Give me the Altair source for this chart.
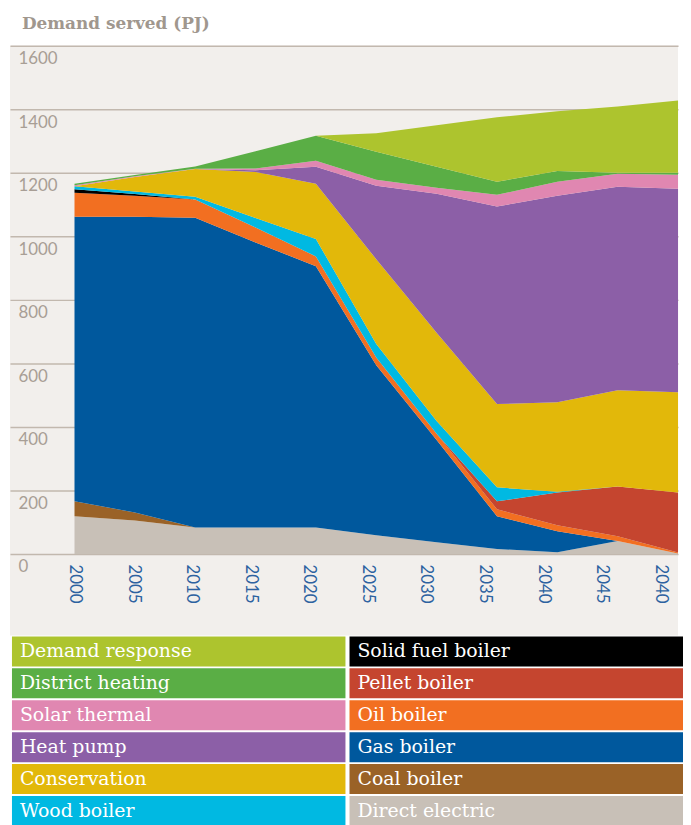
import altair as alt
import pandas as pd

# ---------------- data ----------------
years = [2000, 2005, 2010, 2015, 2020, 2025, 2030, 2035, 2040, 2045, 2050]

series_names = ["Direct electric", "Coal boiler", "Gas boiler", "Oil boiler",
                "Pellet boiler", "Solid fuel boiler", "Wood boiler", "Conservation",
                "Heat pump", "Solar thermal", "District heating", "Demand response"]
series_colors = ["#c8c0b7", "#9a6227", "#00589d", "#f26f21",
                 "#c5452f", "#000000", "#00b9e2", "#e2b80a",
                 "#8c5fa7", "#e087b1", "#5aae45", "#adc42e"]

direct_electric   = [119, 106, 84, 84, 84, 59, 37, 16, 6, 41, 2]
coal_boiler       = [47, 25, 0, 0, 0, 0, 0, 0, 0, 0, 0]
gas_boiler        = [896, 931, 975, 897, 822, 535, 322, 103, 66, 0, 0]
oil_boiler        = [75, 66, 57, 47, 31, 25, 20, 22, 19, 15, 3]
pellet_boiler     = [0, 0, 0, 0, 0, 0, 0, 25, 103, 157, 189]
solid_fuel_boiler = [11, 5, 0, 0, 0, 0, 0, 0, 0, 0, 0]
wood_boiler       = [10, 8, 9, 30, 55, 42, 40, 44, 2, 0, 0]
conservation      = [0, 46, 87, 145, 174, 267, 278, 262, 282, 303, 315]
heat_pump         = [0, 0, 0, 5, 53, 231, 437, 622, 650, 640, 641]
solar_thermal     = [3, 2, 1, 6, 19, 19, 19, 37, 44, 41, 44]
district_heating  = [5, 4, 7, 54, 79, 88, 66, 41, 34, 3, 6]
demand_response   = [0, 0, 0, 0, 0, 59, 131, 203, 188, 209, 228]

series_values = [direct_electric, coal_boiler, gas_boiler, oil_boiler,
                 pellet_boiler, solid_fuel_boiler, wood_boiler, conservation,
                 heat_pump, solar_thermal, district_heating, demand_response]

y_ticks = [0, 200, 400, 600, 800, 1000, 1200, 1400, 1600]
x_tick_values = [2000, 2005, 2010, 2015, 2020, 2025, 2030, 2035, 2040, 2045, 2050]
x_tick_labels = ["2000", "2005", "2010", "2015", "2020", "2025", "2030",
                 "2035", "2040", "2045", "2040"]

legend_left = ["Demand response", "District heating", "Solar thermal",
               "Heat pump", "Conservation", "Wood boiler"]
legend_right = ["Solid fuel boiler", "Pellet boiler", "Oil boiler",
                "Gas boiler", "Coal boiler", "Direct electric"]

title_text = "Demand served (PJ)"

# ---------------- tables ----------------
rows = []
for i, (name, vals) in enumerate(zip(series_names, series_values)):
    for yr, v in zip(years, vals):
        rows.append({"year": yr, "series": name, "value": v, "order": i})
df = pd.DataFrame(rows)

ticks_df = pd.DataFrame({"tick": x_tick_values, "label": x_tick_labels})

leg_rows = []
for r, n in enumerate(legend_left):
    leg_rows.append({"name": n, "col": 0, "row": r})
for r, n in enumerate(legend_right):
    leg_rows.append({"name": n, "col": 1, "row": r})
leg_df = pd.DataFrame(leg_rows)

label_expr = " : ".join(
    f"datum.value == {v} ? '{l}'" for v, l in zip(x_tick_values, x_tick_labels)
) + " : ''"

color_scale = alt.Scale(domain=series_names, range=series_colors)

BEIGE = "#f2efec"
W = 673

# ---------------- main chart ----------------
areas = alt.Chart(df).mark_area(interpolate="linear").encode(
    x=alt.X("year:Q", scale=alt.Scale(domain=[1994.655, 2050], nice=False, zero=False),
            axis=None),
    y=alt.Y("value:Q", stack="zero",
            scale=alt.Scale(domain=[-256, 1600], nice=False, zero=False),
            axis=alt.Axis(values=y_ticks, format="d", grid=True, gridColor="#c2b8ae",
                          gridWidth=1.5, domain=False, ticks=False, tickSize=0,
                          labelAlign="left", labelBaseline="top", labelPadding=-8,
                          labelOffset=5, labelColor="#a89e95", labelFont="Lato",
                          labelFontSize=17, labelOverlap=False, title=None)),
    color=alt.Color("series:N", scale=color_scale, legend=None),
    order=alt.Order("order:Q", sort="ascending"),
)

tick_layer = alt.Chart(ticks_df).mark_point(opacity=0).encode(
    x=alt.X("tick:Q",
            scale=alt.Scale(domain=[1994.49, 2051.52], nice=False, zero=False),
            axis=alt.Axis(values=x_tick_values, labelExpr=label_expr, orient="bottom",
                          offset=-82, labelAngle=90, labelAlign="left",
                          labelBaseline="middle", labelPadding=10, domain=False,
                          ticks=False, tickSize=0, grid=False, title=None,
                          labelColor="#2d62a0", labelFont="Lato", labelFontSize=17,
                          labelFlush=False, labelOverlap=False)),
    y=alt.value(0),
)

main = alt.layer(areas, tick_layer).resolve_scale(x="independent").properties(
    width=W, height=594, view=alt.ViewBackground(fill=BEIGE, stroke=None)
)

# ---------------- legend ----------------
x_leg_scale = alt.Scale(range=[2, 678], paddingInner=0.012, paddingOuter=0)
leg_base = alt.Chart(leg_df).encode(
    y=alt.Y("row:O", scale=alt.Scale(paddingInner=0.06, paddingOuter=0), axis=None),
)
leg_rects = leg_base.mark_rect().encode(
    x=alt.X("col:O", scale=x_leg_scale, axis=None),
    color=alt.Color("name:N", scale=color_scale, legend=None),
)
leg_text = leg_base.mark_text(align="left", baseline="middle", dx=8, color="white",
                              font="DejaVu Serif", fontSize=19).encode(
    x=alt.X("col:O", bandPosition=0, scale=x_leg_scale, axis=None),
    text="name:N",
)
legend = alt.layer(leg_rects, leg_text).properties(
    width=W, height=191, view=alt.ViewBackground(fill="white", stroke=None)
)

chart = alt.vconcat(main, legend, spacing=1).properties(
    title=alt.TitleParams(title_text, anchor="start", dx=12, font="DejaVu Serif",
                          fontSize=17, fontWeight="bold", color="#a0978e", offset=10),
    padding={"left": 2, "top": 4, "right": 0, "bottom": 0},
    background="white",
).configure_view(stroke=None)

chart.save("out.html", embed_options={"renderer": "svg", "actions": False})
